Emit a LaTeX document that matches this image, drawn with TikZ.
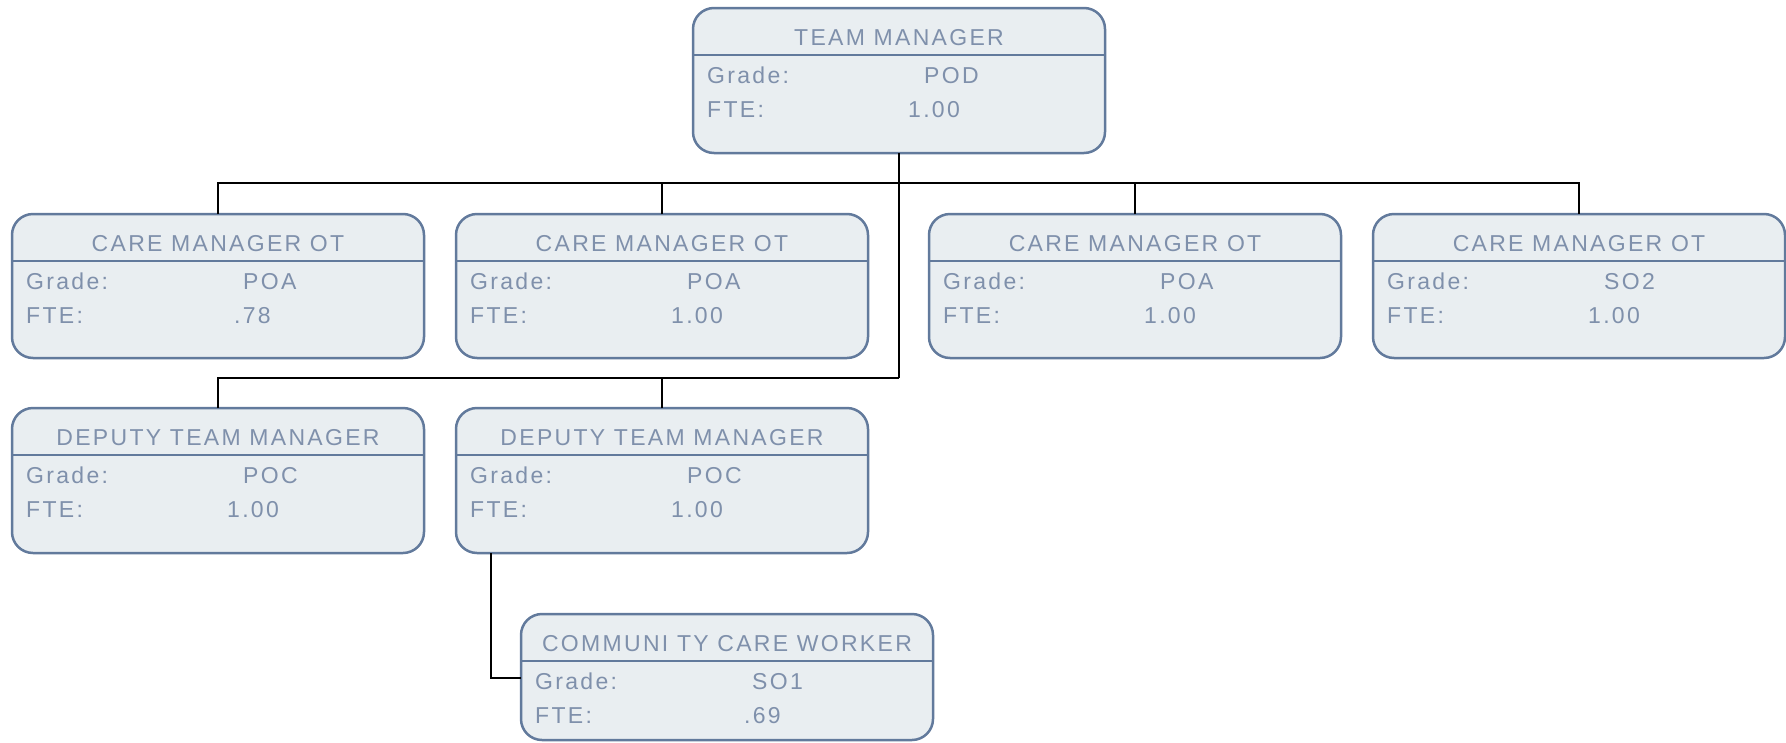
\documentclass[tikz,border=0pt]{standalone}
\usepackage{fontspec}
\setmainfont{Liberation Sans}[LetterSpace=10]
\definecolor{boxfill}{HTML}{E9EEF1}
\definecolor{boxdraw}{HTML}{627A9C}
\definecolor{boxtext}{HTML}{7F90AB}
\tikzset{
  orgbox/.style={draw=boxdraw, fill=boxfill, line width=2.5pt, rounded corners=21pt,
    minimum width=412pt, outer sep=0pt, inner sep=0pt},
  divline/.style={draw=boxdraw, line width=2.5pt},
  txt/.style={text=boxtext, inner sep=0pt, font=\fontsize{23}{27}\selectfont},
  conn/.style={draw=black, line width=2.6pt}
}
\newcommand\orgchartbox[8]{%
  \node[orgbox, minimum height=#4pt, anchor=north west] (#1) at (#2,#3) {};
  \draw[divline] ([yshift=-47pt]#1.north west) -- ([yshift=-47pt]#1.north east);
  \node[txt, anchor=base] (#1-t) at ([yshift=-37pt]#1.north) {#5};
  \node[txt, anchor=base west] (#1-gl) at ([xshift=14pt,yshift=-75pt]#1.north west) {Grade:};
  \node[txt, anchor=base west] (#1-gv) at ([xshift=231pt,yshift=-75pt]#1.north west) {#6};
  \node[txt, anchor=base west] (#1-fl) at ([xshift=14pt,yshift=-109pt]#1.north west) {FTE:};
  \node[txt, anchor=base west] (#1-fv) at ([xshift=#8pt,yshift=-109pt]#1.north west) {#7};
}
\begin{document}
\begin{tikzpicture}[x=1pt, y=-1pt]
\useasboundingbox (0,0) rectangle (1786,742);
\orgchartbox{tm}{693}{8}{145}{TEAM MANAGER}{POD}{1.00}{215}
\orgchartbox{cma}{12}{214}{144}{CARE MANAGER OT}{POA}{.78}{222}
\orgchartbox{cmb}{456}{214}{144}{CARE MANAGER OT}{POA}{1.00}{215}
\orgchartbox{cmc}{929}{214}{144}{CARE MANAGER OT}{POA}{1.00}{215}
\orgchartbox{cmd}{1373}{214}{144}{CARE MANAGER OT}{SO2}{1.00}{215}
\orgchartbox{dta}{12}{408}{145}{DEPUTY TEAM MANAGER}{POC}{1.00}{215}
\orgchartbox{dtb}{456}{408}{145}{DEPUTY TEAM MANAGER}{POC}{1.00}{215}
\orgchartbox{ccw}{521}{614}{126}{COMMUNI TY CARE WORKER}{SO1}{.69}{223}
\coordinate (busa) at ([yshift=-30pt]tm.south);
\coordinate (busb) at ([yshift=-225pt]tm.south);
\draw[conn] (tm.south) -- (busb);
\draw[conn] (cma.north) -- (cma.north |- busa) -- (cmd.north |- busa) -- (cmd.north);
\draw[conn] (cmb.north) -- (cmb.north |- busa);
\draw[conn] (cmc.north) -- (cmc.north |- busa);
\draw[conn] (dta.north) |- (busb);
\draw[conn] (dtb.north) -- (dtb.north |- busb);
\draw[conn] ([xshift=35pt]dtb.south west) |- ([yshift=-64pt]ccw.north west);
\end{tikzpicture}
\end{document}
